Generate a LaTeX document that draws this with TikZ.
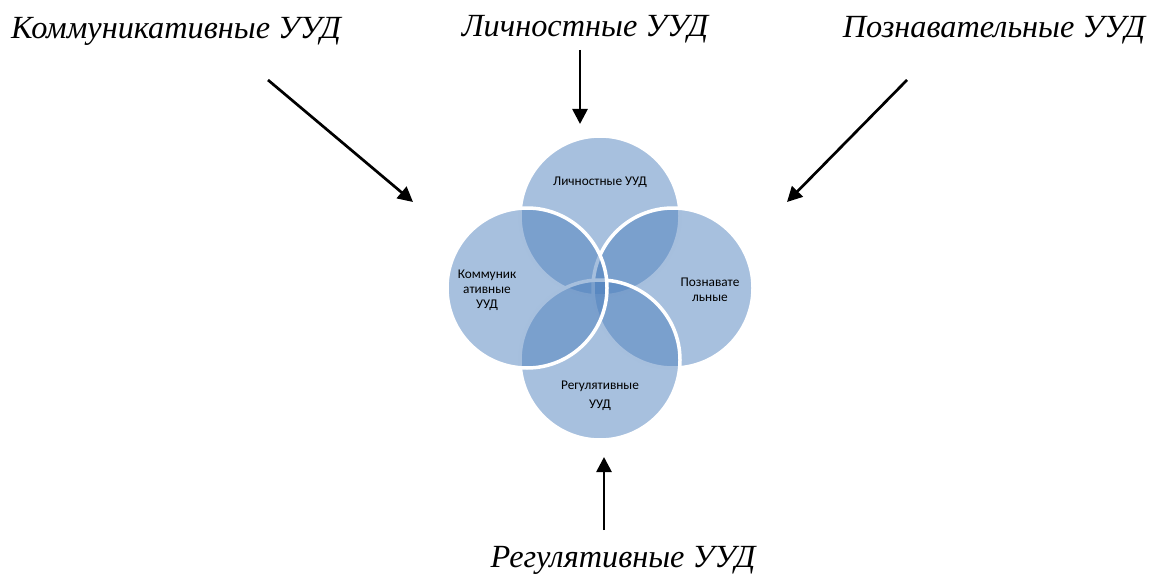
\documentclass[tikz,border=0pt]{standalone}
\usepackage{fontspec}
\setmainfont{Liberation Serif}
\newfontfamily\calibri{Carlito}
\usetikzlibrary{arrows.meta}
\definecolor{vennblue}{RGB}{79,129,189}

\begin{document}
\begin{tikzpicture}[x=1pt,y=-1pt,
  venn/.style={circle,draw=white,line width=3.5pt,fill=vennblue,fill opacity=0.5,draw opacity=1,minimum size=160pt,inner sep=0pt},
  small/.style={font=\calibri\fontsize{13.3}{15}\selectfont,align=center,text=black},
  big/.style={font=\itshape\fontsize{32.3}{38}\selectfont,anchor=base},
  arr/.style={line width=2.7pt,-{Triangle[length=15pt,width=15pt]}}]
\useasboundingbox (0,0) rectangle (1153,575);

\node[venn] at (600,216) (lich) {};
\node[venn] at (673,288) (pozn) {};
\node[venn] at (600,360) (reg) {};
\node[venn] at (527,288) (komm) {};

\node[small] at (600,182) (t1) {Личностные УУД};
\node[small] at (487,290) (t2) {Коммуник\\ативные\\УУД};
\node[small] at (710,290) (t3) {Познавате\\льные};
\node[small] at (600,396) (t4) {Регулятивные\\[4pt]УУД};

\node[big] at (176,39) (kl) {Коммуникативные УУД};
\node[big] at (585,37) (ll) {Личностные УУД};
\node[big] at (994,38) (pl) {Познавательные УУД};
\node[big] at (623,567) (rl) {Регулятивные УУД};

\coordinate (a1) at (268,80);
\coordinate (b1) at (413,202);
\coordinate (a2) at (580,50);
\coordinate (b2) at (580,124);
\coordinate (a3) at (907,80);
\coordinate (b3) at (787,202);
\coordinate (a4) at (604,530);
\coordinate (b4) at (604,457);

\draw[arr] (a1) -- (b1);
\draw[arr] (a2) -- (b2);
\draw[arr] (a3) -- (b3);
\draw[arr] (a4) -- (b4);
\end{tikzpicture}
\end{document}
